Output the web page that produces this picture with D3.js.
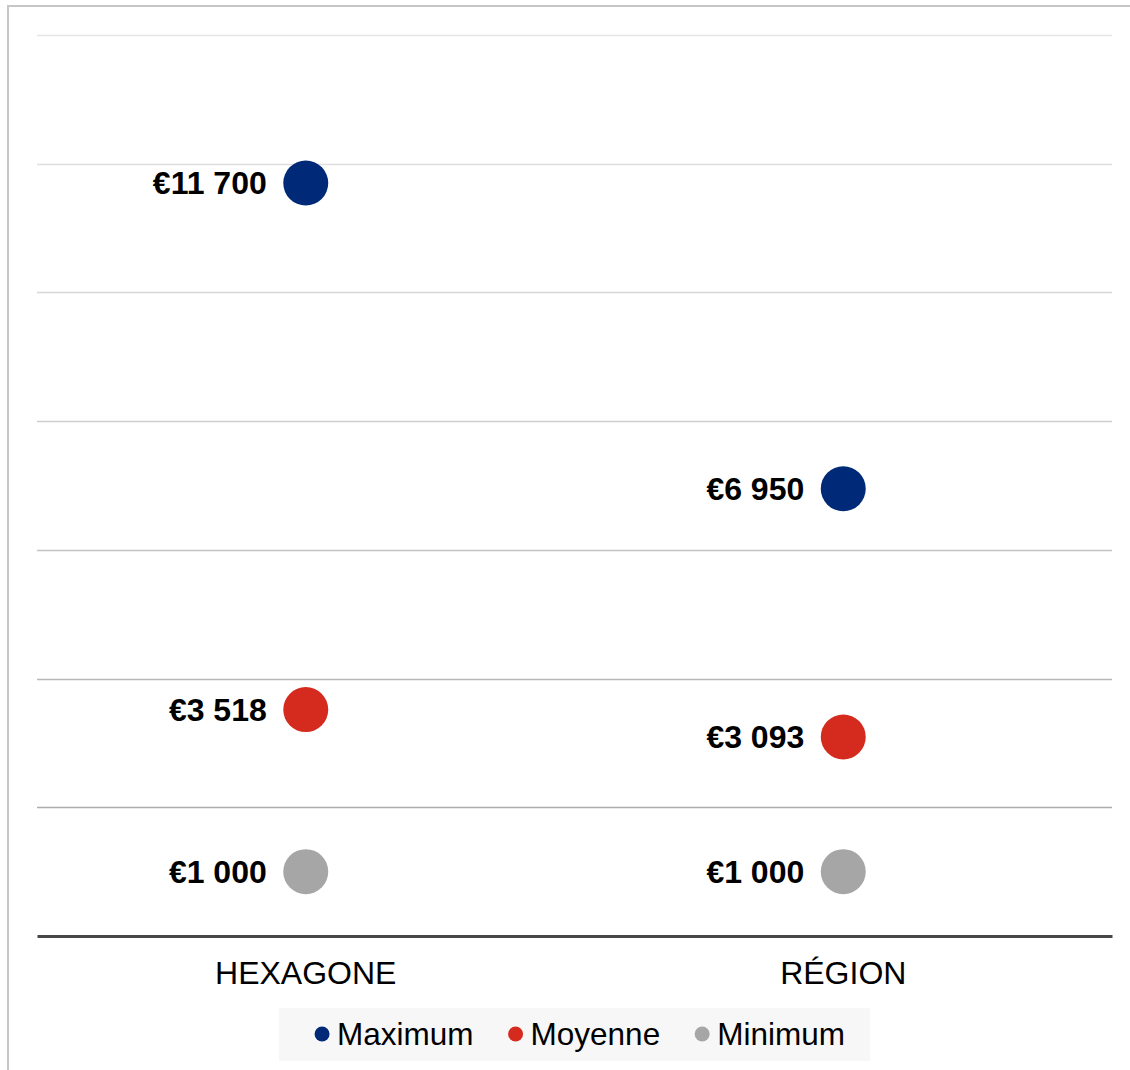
<!DOCTYPE html>
<html>
<head>
<meta charset="utf-8">
<script src="https://cdn.jsdelivr.net/npm/d3@7"></script>
<style>
  html, body { margin: 0; padding: 0; background: #fff; }
  svg { display: block; font-family: "Liberation Sans", Arial, sans-serif; }
</style>
</head>
<body>
<svg id="chart" width="1130" height="1070"></svg>
<script>
// Categories and series
const categories = ["HEXAGONE", "RÉGION"];
const seriesNames = ["Maximum", "Moyenne", "Minimum"];
const seriesColors = ["#002a77", "#d52b1e", "#a6a6a6"];
const maximumValues = [11700, 6950];
const moyenneValues = [3518, 3093];
const minimumValues = [1000, 1000];
const yTicks = [0, 2000, 4000, 6000, 8000, 10000, 12000, 14000];
const gridColors = ["#e6e6e6", "#dedede", "#d6d6d6", "#cdcdcd", "#c3c3c3", "#b8b8b8", "#adadad"];

const seriesValues = [maximumValues, moyenneValues, minimumValues];

const svg = d3.select("#chart");
const margin = { left: 37, right: 18, top: 35, bottom: 134 };
const W = 1130, H = 1070;
const innerW = W - margin.left - margin.right;
const innerH = H - margin.top - margin.bottom;

// Frame on the top and left edges
svg.append("line").attr("x1", 7).attr("x2", W).attr("y1", 6).attr("y2", 6)
  .attr("stroke", "#c6c6c6").attr("stroke-width", 2);
svg.append("line").attr("x1", 8).attr("x2", 8).attr("y1", 6).attr("y2", H)
  .attr("stroke", "#c6c6c6").attr("stroke-width", 2);

const g = svg.append("g").attr("transform", `translate(${margin.left},${margin.top})`);

const x = d3.scaleBand().domain(categories).range([0, innerW]).padding(0);
const y = d3.scaleLinear().domain([0, 14000]).range([innerH, 0]);

// Horizontal gridlines (lighter toward the top)
const gridTicks = yTicks.filter(t => t > 0).reverse();
g.append("g").selectAll("line").data(gridTicks).join("line")
  .attr("x1", 0).attr("x2", innerW)
  .attr("y1", d => Math.round(y(d)) + 0.5).attr("y2", d => Math.round(y(d)) + 0.5)
  .attr("stroke", (d, i) => gridColors[i]).attr("stroke-width", 1.5);

// Baseline axis with category labels
const xAxis = g.append("g").attr("transform", `translate(0,${y(0)})`)
  .call(d3.axisBottom(x).tickSize(0).tickPadding(0));
xAxis.select(".domain").attr("stroke", "#474747").attr("stroke-width", 3);
xAxis.selectAll(".tick text")
  .attr("y", 48).attr("dy", null)
  .attr("font-size", 32).attr("fill", "#000")
  .attr("font-family", "Liberation Sans, Arial, sans-serif");

// Points and value labels
const fmt = v => "€" + d3.format(",")(v).replace(/,/g, " ");
seriesNames.forEach((name, si) => {
  const data = categories.map((c, ci) => ({ c, v: seriesValues[si][ci] }));
  const grp = g.append("g");
  grp.selectAll("circle").data(data).join("circle")
    .attr("cx", d => x(d.c) + x.bandwidth() / 2)
    .attr("cy", d => y(d.v))
    .attr("r", 22.5)
    .attr("fill", seriesColors[si]);
  grp.selectAll("text").data(data).join("text")
    .attr("x", d => x(d.c) + x.bandwidth() / 2 - 39)
    .attr("y", d => y(d.v) + 11)
    .attr("text-anchor", "end")
    .attr("font-size", 32).attr("font-weight", "bold").attr("fill", "#000")
    .text(d => fmt(d.v));
});

// Legend
const legend = svg.append("g");
const legendBg = legend.append("rect").attr("fill", "#f7f7f7");
const items = legend.selectAll("g.item").data(seriesNames).join("g").attr("class", "item");
items.append("circle").attr("r", 7.5).attr("cy", 0).attr("cx", 8)
  .attr("fill", (d, i) => seriesColors[i]);
items.append("text").attr("x", 23).attr("y", 11)
  .attr("font-size", 31.5).attr("fill", "#000").text(d => d);
let cursor = 0;
const gap = 34;
items.each(function () {
  const w = d3.select(this).select("text").node().getComputedTextLength();
  d3.select(this).attr("transform", `translate(${cursor},0)`);
  cursor += 23 + w + gap;
});
const totalW = cursor - gap;
const padL = 35, padR = 25;
const boxW = totalW + padL + padR;
const centerX = margin.left + innerW / 2;
const legendY = 1034;
legend.attr("transform", `translate(${centerX - boxW / 2 + padL},${legendY})`);
legendBg.attr("x", -padL).attr("y", -26).attr("width", boxW).attr("height", 53);
</script>
</body>
</html>
